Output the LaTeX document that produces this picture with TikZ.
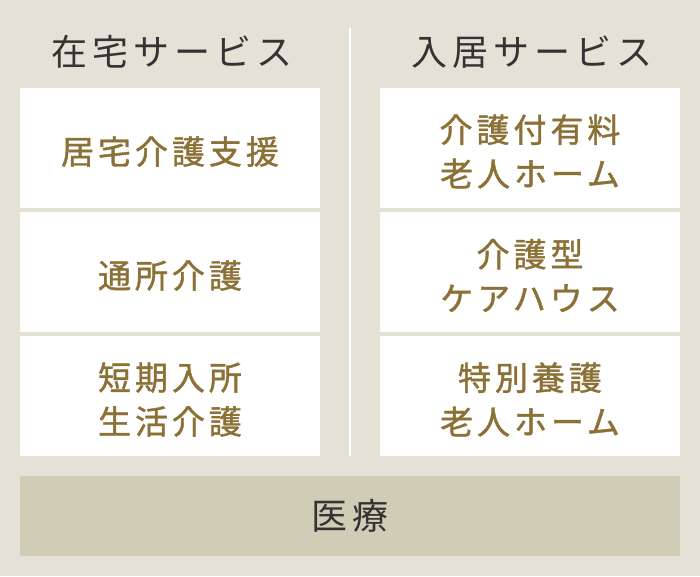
\documentclass[tikz,border=0pt]{standalone}
\usepackage{fontspec}
\usetikzlibrary{positioning}
\newfontfamily\jpcell[LetterSpace=12,FakeBold=1.2]{Noto Sans CJK JP}
\newfontfamily\jphead[LetterSpace=14]{Noto Sans CJK JP}
\definecolor{bgcol}{HTML}{E4E2D6}
\definecolor{barcol}{HTML}{CFCDB5}
\definecolor{goldtxt}{HTML}{8C7137}
\definecolor{darktxt}{HTML}{333333}
\newcommand{\topline}[1]{\raisebox{0pt}[\dimexpr\height+7pt\relax][\depth]{#1}}
\begin{document}
\begin{tikzpicture}[x=1pt,y=-1pt]
\tikzstyle{cell}=[fill=white, minimum width=300pt, minimum height=120pt, inner sep=0pt, align=center, text=goldtxt, font=\jpcell\fontsize{33}{44}\selectfont]
\tikzstyle{head}=[inner sep=0pt, text=darktxt, font=\jphead\fontsize{36}{40}\selectfont]
\fill[bgcol] (0,0) rectangle (700,576);
\useasboundingbox (0,0) rectangle (700,576);
\node[head] (homehead) at (172,52){在宅サービス};
\node[head] (livehead) at (532,52){入居サービス};
\coordinate (divtop) at (350,28);
\coordinate (divbot) at (350,456);
\draw[white, line width=2pt] (divtop) -- (divbot);
% left column
\node[cell] (home1) at (170,148){\topline{居宅介護支援}};
\node[cell] (home2) at (170,272){\topline{通所介護}};
\node[cell] (home3) at (170,396){\topline{短期入所}\\生活介護};
% right column
\node[cell] (live1) at (530,148){\topline{介護付有料}\\老人ホーム};
\node[cell] (live2) at (530,272){\topline{介護型}\\ケアハウス};
\node[cell] (live3) at (530,396){\topline{特別養護}\\老人ホーム};
\node[fill=barcol, minimum width=660pt, minimum height=80pt, inner sep=0pt, text=darktxt, font=\jphead\fontsize{36}{40}\selectfont] (care) at (350,516){医療};
\end{tikzpicture}
\end{document}
